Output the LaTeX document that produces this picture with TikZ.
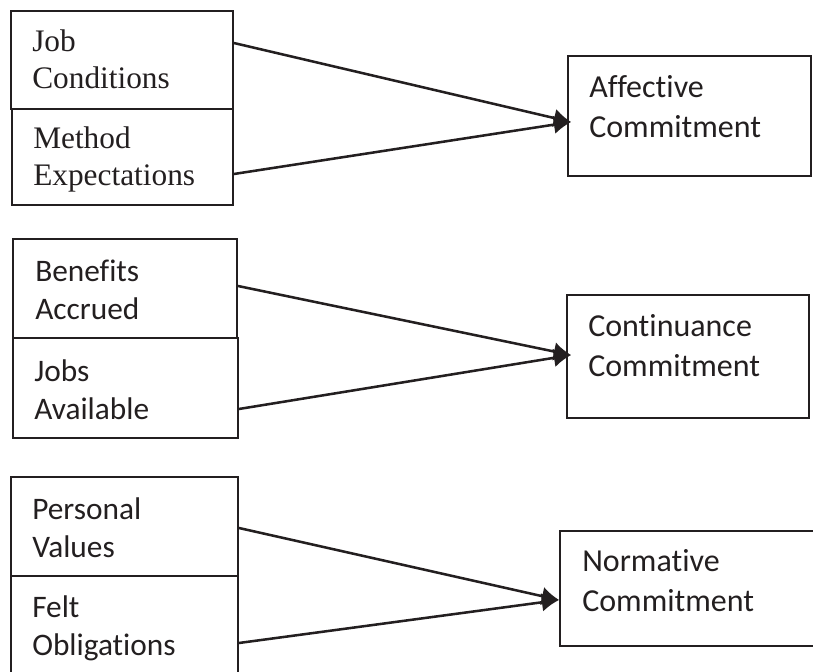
\documentclass[tikz,border=0pt]{standalone}
\usepackage{fontspec}
\setmainfont{Liberation Serif}
\newfontfamily\carlito[Ligatures=NoCommon]{Carlito}
\usetikzlibrary{arrows.meta}

\definecolor{ink}{RGB}{35,31,32}

\tikzset{
  box/.style={draw=ink,line width=1.3pt,inner sep=0pt},
  lbl/.style={anchor=base west,inner sep=0pt,align=left,text=ink,font=\fontsize{23.5}{27.5}\selectfont},
  sanslbl/.style={lbl,font=\fontsize{23.5}{28}\selectfont\carlito},
  bigsans/.style={lbl,font=\fontsize{24}{29.5}\selectfont\carlito},
  link/.style={draw=ink,line width=1.9pt,-{Latex[length=13pt,width=14pt]}}
}

\begin{document}
\begin{tikzpicture}[x=0.75pt,y=-0.75pt]
  \useasboundingbox (0,0) rectangle (813,671);

  % left boxes
  \node [box,minimum width=166.5pt,minimum height=73.5pt] (jc) at (122,60) {};
  \node [box,minimum width=165.75pt,minimum height=72pt] (me) at (122.5,157) {};
  \node [box,minimum width=168pt,minimum height=74.25pt] (ba) at (125,288.5) {};
  \node [box,minimum width=168.75pt,minimum height=75pt] (ja) at (125.5,388) {};
  \node [box,minimum width=170.25pt,minimum height=74.25pt] (pv) at (124.5,526.5) {};
  \node [box,minimum width=170.25pt,minimum height=78pt] (fo) at (124.5,628) {};

  % right boxes
  \node [box,minimum width=182.25pt,minimum height=90pt] (aff) at (689.5,116) {};
  \node [box,minimum width=181.5pt,minimum height=92.25pt] (con) at (688,356.5) {};
  \node [box,minimum width=210pt,minimum height=86.25pt] (nor) at (700,588.5) {};

  % texts (anchored on the last line)
  \node [lbl] (jc-t) at (32,88) {Job\\Conditions};
  \node [lbl] (me-t) at (33,185) {Method\\Expectations};
  \node [sanslbl] (ba-t) at (35,319) {Benefits\\Accrued};
  \node [sanslbl] (ja-t) at (34,419) {Jobs\\Available};
  \node [sanslbl] (pv-t) at (32,557) {Personal\\Values};
  \node [sanslbl] (fo-t) at (32,655) {Felt\\Obligations};
  \node [bigsans] (aff-t) at (589,137) {Affective\\Commitment};
  \node [bigsans] (con-t) at (588,376) {Continuance\\Commitment};
  \node [bigsans] (nor-t) at (582,611) {Normative\\Commitment};

  \draw [link] ([yshift=12.75pt]jc.east) -- ([xshift=3pt,yshift=-4.5pt]aff.west);
  \draw [link] ([yshift=-12.75pt]me.east) -- ([xshift=3pt,yshift=-4.5pt]aff.west);

  \draw [link] ([yshift=1.9pt]ba.east) -- ([xshift=3.75pt,yshift=1.1pt]con.west);
  \draw [link] ([yshift=-15.75pt]ja.east) -- ([xshift=3.75pt,yshift=1.1pt]con.west);

  \draw [link] ([yshift=-1.1pt]pv.east) -- ([yshift=-8.6pt]nor.west);
  \draw [link] ([yshift=-11.25pt]fo.east) -- ([yshift=-8.6pt]nor.west);

\end{tikzpicture}
\end{document}
